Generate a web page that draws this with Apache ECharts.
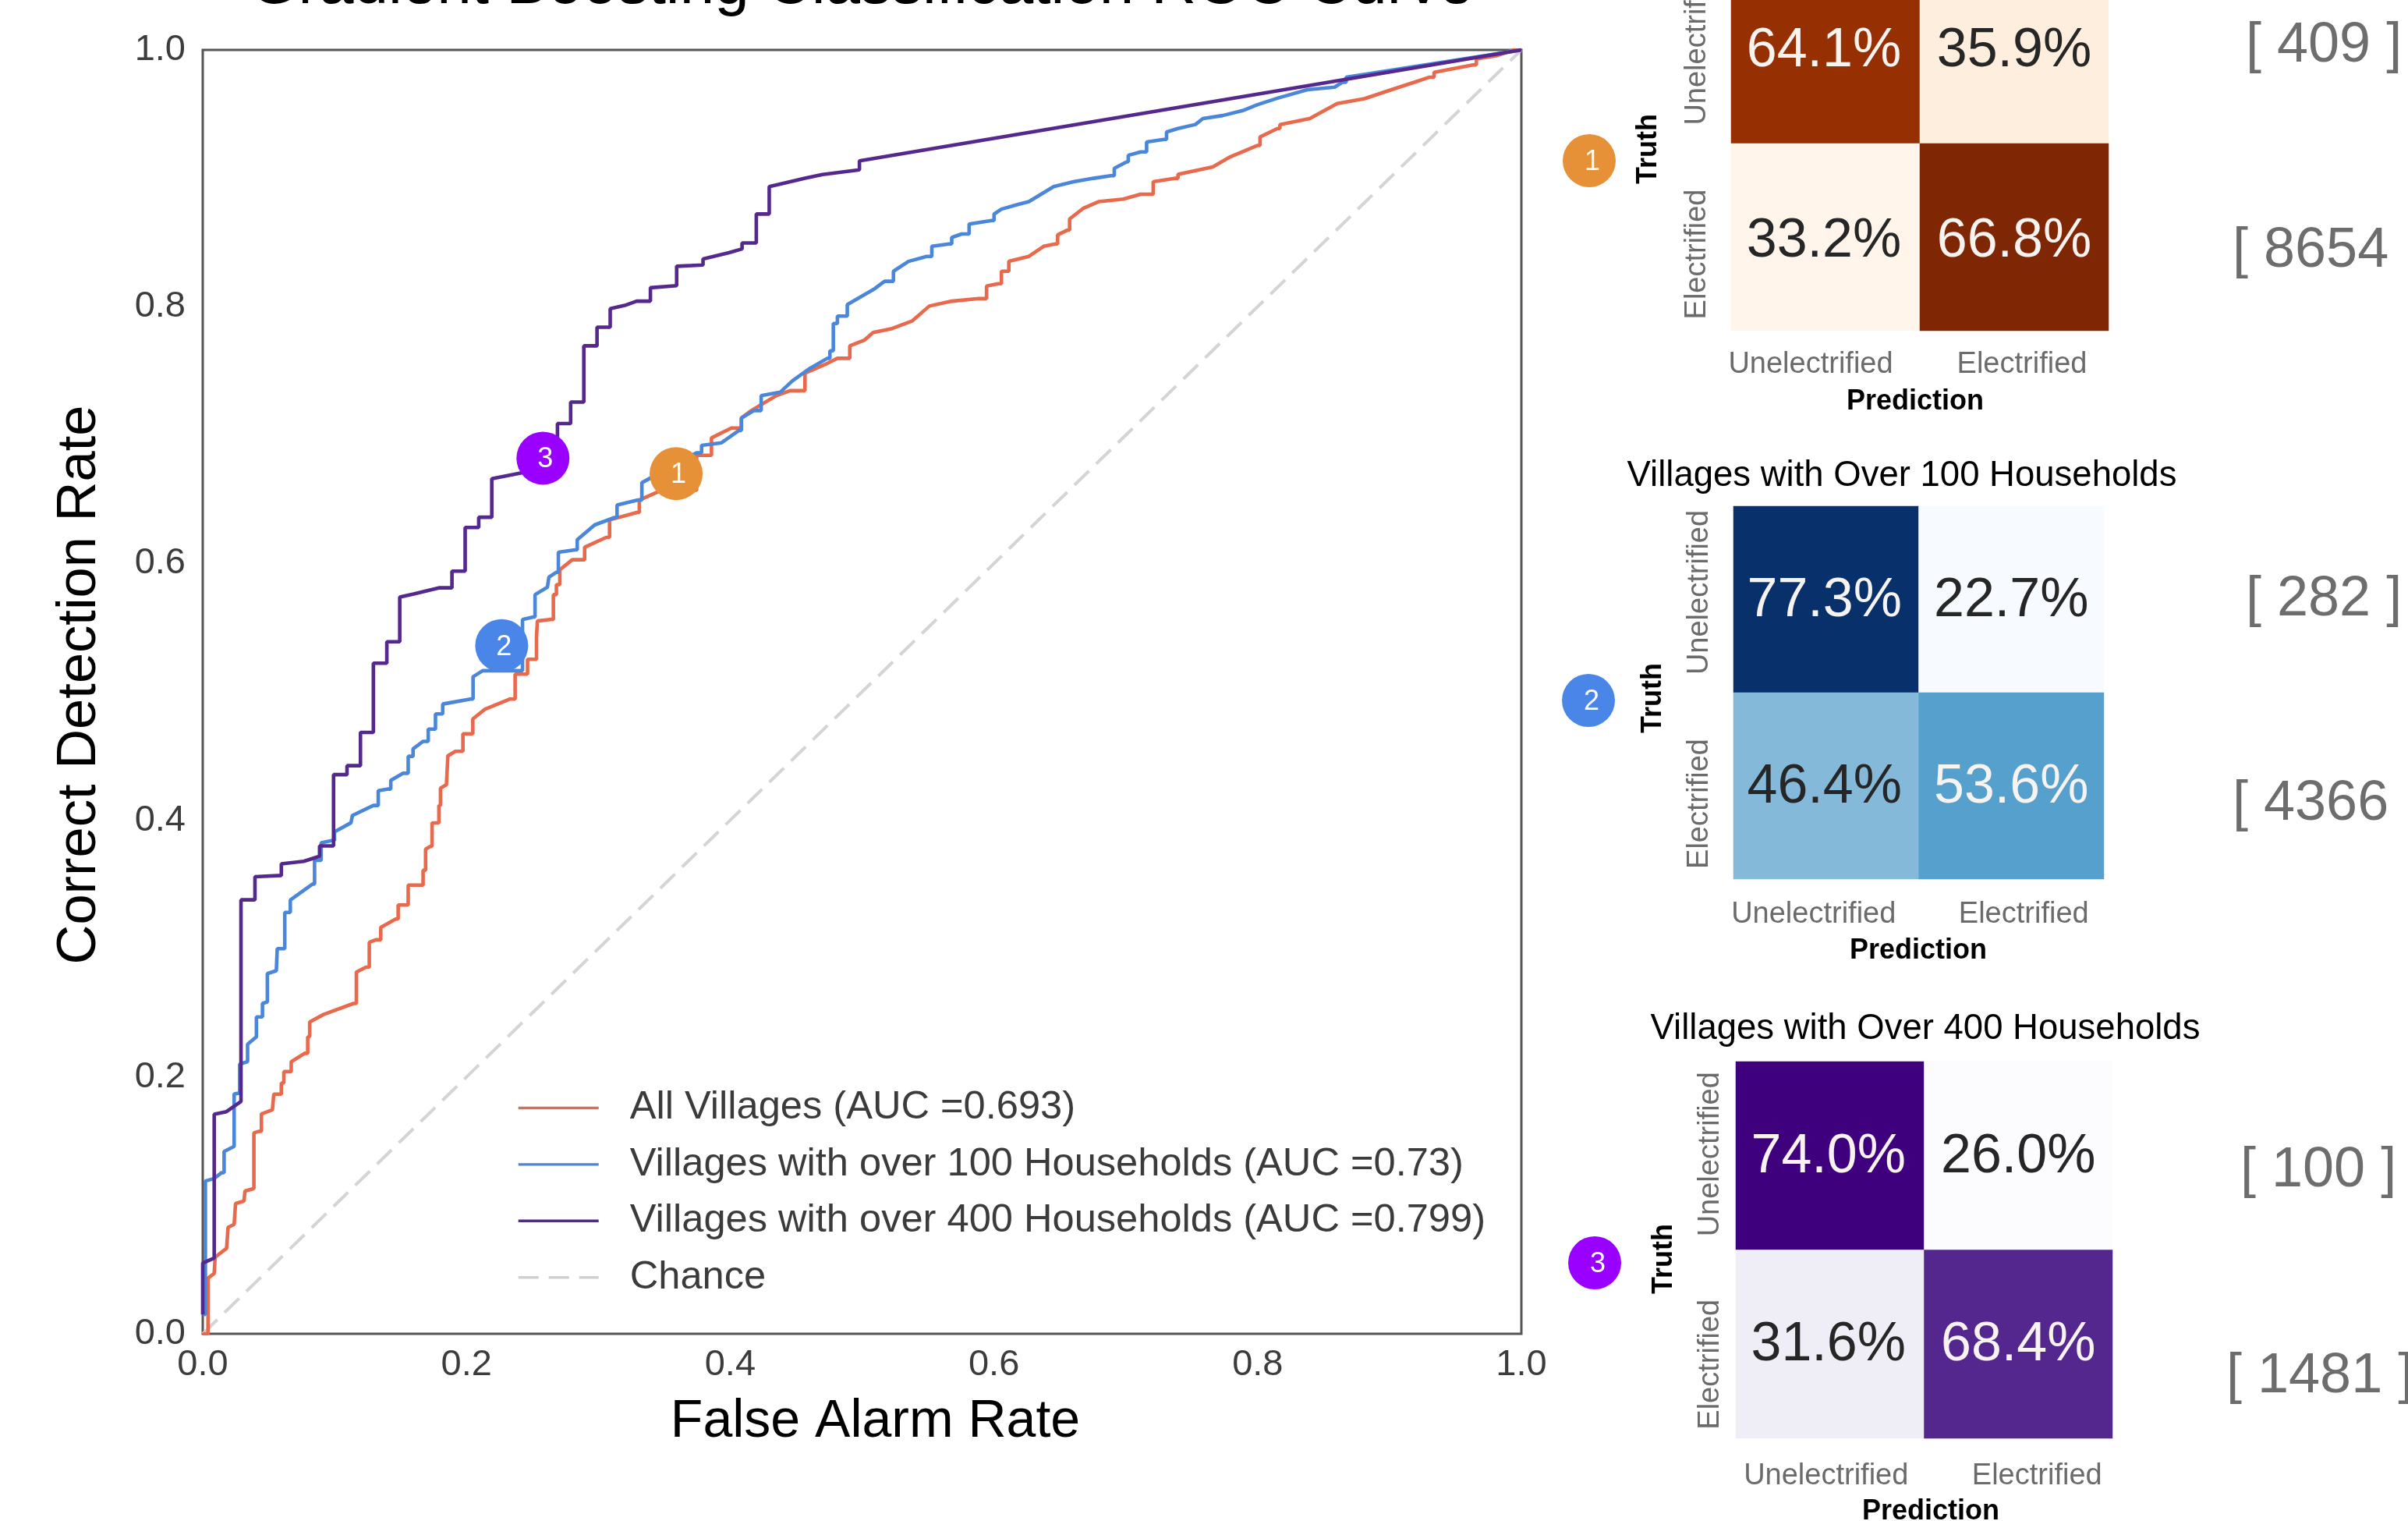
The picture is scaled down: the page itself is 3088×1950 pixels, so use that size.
<!DOCTYPE html>
<html><head><meta charset="utf-8">
<style>html,body{margin:0;padding:0;background:#fff}#c{width:3088px;height:1950px}</style>
<script src="https://cdn.jsdelivr.net/npm/echarts@6/dist/echarts.min.js"></script>
</head><body><div id="c"></div>
<script>
const allVillages = [[0,0],[.004,.012],[.004,.0434],[.0087,.047],[.0094,.0597],[.0181,.0666],[.0192,.0829],[.0238,.0852],[.0249,.1015],[.0313,.1034],[.032,.1112],[.0388,.1131],[.0388,.1565],[.0426,.1577],[.0445,.1713],[.0528,.1744],[.0539,.1867],[.0596,.1953],[.0615,.2042],[.0671,.2119],[.0773,.2185],[.0796,.2313],[.0811,.2429],[.0916,.2487],[.1143,.2573],[.1165,.2817],[.1237,.2855],[.1263,.3049],[.1312,.3069],[.135,.3165],[.1463,.3231],[.1482,.334],[.1558,.3495],[.1671,.3611],[.169,.3774],[.1727,.3797],[.1739,.3979],[.1791,.4115],[.1803,.425],[.1848,.4277],[.1859,.4502],[.1916,.4537],[.1973,.4673],[.2048,.4789],[.2142,.4866],[.2331,.4944],[.2369,.5138],[.2463,.5254],[.2531,.5428],[.2538,.5552],[.2632,.5564],[.2659,.5757],[.2682,.5835],[.2708,.5951],[.2802,.6029],[.2896,.6126],[.3059,.6203],[.3085,.6339],[.3292,.6397],[.3311,.6494],[.3481,.6571],[.3745,.6842],[.3858,.6978],[.4009,.7055],[.4085,.7133],[.416,.7191],[.4349,.7307],[.4454,.7346],[.4567,.7482],[.4737,.7559],[.4813,.7598],[.4907,.7695],[.502,.7741],[.5084,.7799],[.5228,.783],[.5378,.7888],[.551,.8005],[.568,.8043],[.5887,.8063],[.5944,.816],[.6031,.8179],[.6057,.8276],[.6113,.8353],[.6265,.8392],[.6377,.847],[.6465,.8489],[.6483,.8559],[.6559,.8597],[.6574,.8683],[.668,.8768],[.6793,.8818],[.6981,.8838],[.7113,.8876],[.7208,.8973],[.7377,.9],[.7396,.9031],[.766,.9089],[.7792,.9167],[.8,.9256],[.8018,.9322],[.815,.9388],[.8169,.9419],[.8395,.9465],[.8603,.9582],[.881,.962],[.9037,.9698],[.9187,.9748],[.93,.9787],[.9338,.9826],[.964,.9884],[.9659,.993],[.981,.9954],[.9942,1],[1,1]];
const over100 = [[0,.015],[.002,.015],[.002,.119],[.0087,.121],[.0143,.1255],[.0162,.142],[.0238,.146],[.0238,.1868],[.028,.1875],[.028,.21],[.034,.212],[.034,.2255],[.0407,.2313],[.0407,.2468],[.0453,.2573],[.049,.2585],[.049,.2805],[.0558,.2828],[.0565,.30],[.0622,.3069],[.0622,.3282],[.0664,.3378],[.0833,.3503],[.0848,.3688],[.0898,.3824],[.0984,.3843],[.0999,.391],[.1124,.398],[.1135,.4037],[.1294,.4115],[.1331,.423],[.1407,.4243],[.1426,.431],[.152,.4366],[.1558,.4498],[.1595,.4556],[.167,.4614],[.171,.471],[.1765,.4828],[.182,.4905],[.203,.4944],[.205,.5118],[.2123,.5165],[.2425,.5564],[.2508,.5583],[.252,.5757],[.2614,.5816],[.2625,.5893],[.2682,.5932],[.2697,.6087],[.2821,.6106],[.284,.6184],[.2972,.63],[.3123,.6358],[.3142,.6455],[.33,.6494],[.333,.6629],[.3745,.6862],[.3783,.692],[.3934,.694],[.4066,.7036],[.4085,.7133],[.418,.7191],[.4235,.7307],[.4379,.7334],[.4473,.7423],[.4605,.752],[.4737,.7598],[.4756,.7656],[.4782,.7869],[.4813,.7927],[.4888,.8016],[.5095,.814],[.5171,.8198],[.5238,.8276],[.5352,.8353],[.549,.8392],[.5529,.847],[.5661,.8489],[.568,.8539],[.5755,.8566],[.5812,.8644],[.5982,.8671],[.6001,.8721],[.6057,.876],[.619,.8799],[.6265,.8818],[.6453,.8935],[.6604,.8973],[.6755,.9],[.6887,.902],[.6913,.9078],[.7007,.9128],[.7019,.9179],[.7113,.9206],[.7158,.9283],[.729,.9303],[.7309,.9361],[.7396,.9388],[.7528,.9419],[.7585,.9465],[.7735,.9489],[.7886,.9527],[.8,.9574],[.815,.9624],[.8377,.969],[.8584,.971],[.8641,.9748],[.8671,.9787],[1,1]];
const over400 = [[0,.015],[0,.055],[.0087,.059],[.0087,.171],[.018,.173],[.029,.181],[.029,.338],[.0396,.338],[.0396,.356],[.0596,.357],[.0596,.366],[.0766,.368],[.0886,.372],[.0886,.380],[.0992,.380],[.0992,.4355],[.1094,.4355],[.1094,.4425],[.1196,.4425],[.1196,.4684],[.1294,.4684],[.1294,.5223],[.1396,.5223],[.1396,.539],[.1494,.539],[.1494,.5738],[.16,.5762],[.179,.581],[.189,.581],[.189,.594],[.199,.594],[.199,.628],[.2093,.628],[.2093,.636],[.2192,.636],[.2192,.666],[.2425,.6707],[.269,.6755],[.269,.709],[.279,.709],[.279,.7257],[.289,.7257],[.289,.7695],[.299,.7695],[.299,.784],[.309,.784],[.309,.7985],[.32,.801],[.329,.8043],[.3395,.8043],[.3395,.8148],[.3594,.8164],[.3594,.8315],[.3794,.8325],[.3794,.8372],[.399,.842],[.409,.845],[.409,.8496],[.4198,.8496],[.4198,.8722],[.4296,.8722],[.4296,.8935],[.4379,.8955],[.4567,.9],[.47,.903],[.498,.9066],[.498,.9136],[1,1]];
const chanceLine = [[0,0],[1,1]];

const seriesNames = ['All Villages (AUC =0.693)','Villages with over 100 Households (AUC =0.73)','Villages with over 400 Households (AUC =0.799)','Chance'];
const badgePoints = [[.359,.670,'1'],[.2267,.536,'2'],[.258,.682,'3']];

const classes = ['Unelectrified','Electrified'];
const matrixAll  = [[64.1,35.9],[33.2,66.8]];
const matrix100  = [[77.3,22.7],[46.4,53.6]];
const matrix400  = [[74.0,26.0],[31.6,68.4]];
const matrixTitles = ['', 'Villages with Over 100 Households', 'Villages with Over 400 Households'];
const countsAll = ['[ 409 ]','[ 8654'];
const counts100 = ['[ 282 ]','[ 4366'];
const counts400 = ['[ 100 ]','[ 1481 ]'];

const lineColors = ['#e8694b','#4a86d9','#54288c','#d4d4d4'];
const legendColors = ['#cf6f60','#4d84d4','#4b3183','#cfcfcf'];
const badgeColors = ['#e69138','#4a86e8','#9900ff'];
const cellColors = [
  [['#963003','#fdeedd'],['#fff5eb','#7f2704']],
  [['#08306b','#f7fbff'],['#85b9da','#56a0ce']],
  [['#3f007d','#fcfbfd'],['#efedf5','#54278f']]
];
const FONT = '"Liberation Sans", Arial, Helvetica, sans-serif';

const stairs = pts => pts.flatMap((p,i)=>{
  const q = pts[i+1];
  return q && (q[1]-p[1]) > (q[0]-p[0]) ? [p,[q[0],p[1]]] : [p];
});

const panels = [
  {m:matrixAll, left:2220, right:2704, top:-56,  mid:184,  bottom:424,  lx:[19,10],  ly:[9,22],  lm:25, bm:24, low:6},
  {m:matrix100, left:2223, right:2698, top:649,  mid:888,  bottom:1127, lx:[16,16],  ly:[9,23],  lm:27, bm:24, low:2},
  {m:matrix400, left:2226, right:2709, top:1361, mid:1602, bottom:1844, lx:[5,24],   ly:[2,26],  lm:30, bm:13, low:1}
];

const grids = [{left:260, top:64, width:1691, height:1646, show:true, borderColor:'#555555', borderWidth:3, backgroundColor:'#fff', containLabel:false, outerBoundsMode:'none'}];
const xAxes = [{
  type:'value', gridIndex:0, min:0, max:1, interval:.2,
  axisLine:{show:false}, axisTick:{show:false}, splitLine:{show:false},
  axisLabel:{formatter:v=>v.toFixed(1), fontFamily:FONT, fontSize:47, color:'#3c3c3c', margin:17},
  name:'False Alarm Rate', nameLocation:'middle', nameGap:79,
  nameTextStyle:{fontFamily:FONT, fontSize:68, color:'#000', padding:[0,0,0,34]}
}];
const yAxes = [{
  type:'value', gridIndex:0, min:0, max:1, interval:.2,
  axisLine:{show:false}, axisTick:{show:false}, splitLine:{show:false},
  axisLabel:{formatter:v=>v.toFixed(1), fontFamily:FONT, fontSize:47, color:'#3c3c3c', margin:22, padding:[12,0,0,0]},
  name:'Correct Detection Rate', nameLocation:'middle', nameGap:122, nameRotate:90,
  nameTextStyle:{fontFamily:FONT, fontSize:70.5, color:'#000', padding:[0,0,0,18]}
}];

const chartSeries = [allVillages, over100, over400].map((d,i)=>({
  name:seriesNames[i], type:'line', xAxisIndex:0, yAxisIndex:0, data:stairs(d), showSymbol:false, symbol:'none',
  lineStyle:{color:lineColors[i], width:4.6}, itemStyle:{color:lineColors[i]}, z:3+i, silent:true
}));
chartSeries.push({
  name:seriesNames[3], type:'line', xAxisIndex:0, yAxisIndex:0, data:chanceLine, showSymbol:false, symbol:'none',
  lineStyle:{color:lineColors[3], width:4, type:[26,13]}, itemStyle:{color:lineColors[3]}, z:2, silent:true
});
chartSeries.push({
  type:'scatter', xAxisIndex:0, yAxisIndex:0, symbolSize:68, z:10, silent:true,
  data:badgePoints.map((b,i)=>({value:b, itemStyle:{color:badgeColors[i], opacity:1}})),
  label:{show:true, position:'inside', formatter:p=>p.value[2], color:'#fff', fontFamily:FONT, fontSize:36, offset:[3,2]}
});

const heatSeries = panels.map((p,i)=>{
  const gi = i+1;
  grids.push({left:p.left, top:p.top, width:p.right-p.left, height:p.bottom-p.top, show:false, containLabel:false, outerBoundsMode:'none'});
  xAxes.push({
    type:'category', gridIndex:gi,
    data:classes.map((c,k)=>({value:c, textStyle:{padding: k===0 ? [0,p.lx[0]*2,0,0] : [0,0,0,p.lx[1]*2]}})),
    axisLine:{show:false}, axisTick:{show:false}, splitLine:{show:false}, splitArea:{show:false},
    axisLabel:{interval:0, fontFamily:FONT, fontSize:38, color:'#6b6b6b', margin:p.lm}
  });
  yAxes.push({
    type:'category', gridIndex:gi, inverse:true,
    data:classes.map((c,k)=>({value:c, textStyle:{padding: k===0 ? [0,0,0,p.ly[0]*2] : [0,p.ly[1]*2,0,0]}})),
    axisLine:{show:false}, axisTick:{show:false}, splitLine:{show:false}, splitArea:{show:false},
    axisLabel:{interval:0, rotate:90, fontFamily:FONT, fontSize:38, color:'#6b6b6b', margin:p.bm}
  });
  const cells = [];
  p.m.forEach((row,r)=>row.forEach((v,c)=>{
    const dark = v > 50;
    cells.push({value:[c,r,v], itemStyle:{color:cellColors[i][r][c]},
      label:{color: dark ? '#f7f3f0' : '#262626', offset:[c===0?-2:0, r===0?2:p.low]}});
  }));
  return {
    type:'heatmap', xAxisIndex:gi, yAxisIndex:gi, data:cells, silent:true,
    label:{show:true, fontFamily:FONT, fontSize:70, formatter:o=>o.value[2].toFixed(1)+'%'},
    emphasis:{disabled:true}
  };
});

const txt = (text,x,y,size,opts={})=>({
  type:'text', x, y, rotation:opts.rot||0, silent:true, z:20,
  style:{text, fontFamily:FONT, fontSize:size, fill:opts.fill||'#000', fontWeight:opts.bold?'bold':'normal',
         align:opts.align||'center', verticalAlign:'middle'}
});
const circle = (x,y,color,label)=>[
  {type:'circle', shape:{cx:x, cy:y, r:34}, style:{fill:color}, silent:true, z:19},
  txt(label,x+4,y+2,36,{fill:'#fff'})
];

const graphics = [
  txt('Gradient Boosting Classification ROC Curve',1105,-18,80),
  ...circle(2038,206,badgeColors[0],'1'),
  ...circle(2037,898,badgeColors[1],'2'),
  ...circle(2045,1619,badgeColors[2],'3'),
  txt('Truth',2114,191,36,{bold:true,rot:Math.PI/2}),
  txt('Truth',2120,895,36,{bold:true,rot:Math.PI/2}),
  txt('Truth',2134,1614,36,{bold:true,rot:Math.PI/2}),
  txt('Prediction',2456,515,36,{bold:true}),
  txt('Prediction',2460,1219,36,{bold:true}),
  txt('Prediction',2476,1938,36,{bold:true}),
  txt(matrixTitles[1],2439,610,45.5),
  txt(matrixTitles[2],2469,1319,45.5),
  txt(countsAll[0],2880,59,72,{fill:'#6d6d6d',align:'left'}),
  txt(countsAll[1],2863,322,72,{fill:'#6d6d6d',align:'left'}),
  txt(counts100[0],2880,769,72,{fill:'#6d6d6d',align:'left'}),
  txt(counts100[1],2863,1031,72,{fill:'#6d6d6d',align:'left'}),
  txt(counts400[0],2873,1501,72,{fill:'#6d6d6d',align:'left'}),
  txt(counts400[1],2855,1765,72,{fill:'#6d6d6d',align:'left'})
];

const chart = echarts.init(document.getElementById('c'), null, {renderer:'canvas', width:3088, height:1950});
chart.setOption({
  animation:false, backgroundColor:'#ffffff', tooltip:{show:false},
  legend:{
    orient:'vertical', left:658, top:1390, itemWidth:103, itemHeight:52, itemGap:21.4, selectedMode:false,
    data:seriesNames.map((n,i)=>({name:n, itemStyle:{opacity:0}, lineStyle:{color:legendColors[i], width:3.4, opacity:1}})),
    textStyle:{fontFamily:FONT, fontSize:50.6, color:'#3b3b3b', padding:[0,0,0,35]}
  },
  grid:grids, xAxis:xAxes, yAxis:yAxes,
  series:[...chartSeries, ...heatSeries],
  graphic:graphics
});
</script></body></html>
